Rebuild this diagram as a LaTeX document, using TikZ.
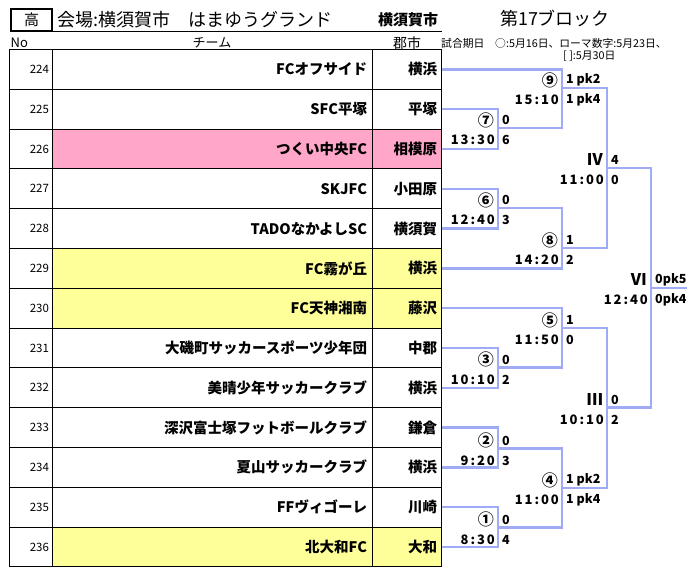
\documentclass[tikz,border=0pt]{standalone}
\usepackage{fontspec}
\setmainfont{Noto Sans CJK JP}
\newfontfamily\timefont[LetterSpace=15]{Noto Sans CJK JP}
\usetikzlibrary{calc}
\definecolor{bracketblue}{HTML}{9FABF5}
\definecolor{rowpink}{HTML}{FFA6C9}
\definecolor{rowyellow}{HTML}{FFFF99}
\tikzset{
  nocell/.style={draw, line width=1pt, outer sep=0pt, minimum height=39.8pt, inner xsep=3pt, inner ysep=0pt, text width=36.5pt, align=right, font=\fontsize{11.5}{13}\selectfont},
  teamcell/.style={draw, line width=1pt, outer sep=0pt, minimum height=39.8pt, inner xsep=5pt, inner ysep=0pt, text width=310pt, align=right, font=\bfseries\fontsize{14.5}{16}\selectfont},
  citycell/.style={draw, line width=1pt, outer sep=0pt, minimum height=39.8pt, inner xsep=4.5pt, inner ysep=0pt, text width=60.5pt, align=right, font=\bfseries\fontsize{14.5}{16}\selectfont},
  bracket/.style={draw=bracketblue, line width=2.5pt},
  numlbl/.style={inner sep=0pt, font=\bfseries\fontsize{16}{18}\selectfont},
  timelbl/.style={inner sep=0pt, font=\timefont\bfseries\fontsize{13}{15}\selectfont},
  scorelbl/.style={inner sep=0pt, font=\bfseries\fontsize{12.5}{15}\selectfont}
}
\begin{document}
\begin{tikzpicture}[x=1pt, y=-1pt]
\useasboundingbox (0,0) rectangle (693,573);
\node[draw, line width=2pt, minimum width=41pt, minimum height=22pt, inner sep=0pt, font=\fontsize{15}{17}\selectfont] (kou) at (31.5,20) {高};
\node[anchor=west, inner sep=0pt, font=\fontsize{18}{20}\selectfont] (venue) at (57,19.5) {会場:横須賀市　はまゆうグランド};
\node[inner sep=0pt, font=\bfseries\fontsize{15}{17}\selectfont] (city) at (408,20) {横須賀市};
\node[inner sep=0pt, font=\fontsize{18}{20}\selectfont] (block) at (555,19) {第17ブロック};
\draw[line width=1pt] (kou.east |- 0,31) -- (441.5,31);
\node[anchor=west, inner sep=0pt, font=\fontsize{13}{15}\selectfont] (hno) at (10.5,43) {No};
\node[inner sep=0pt, font=\fontsize{13}{15}\selectfont] (hteam) at (212,43) {チーム};
\node[inner sep=0pt, font=\fontsize{14}{16}\selectfont] (hcity) at (407,43) {郡市};
\node[anchor=west, inner sep=0pt, font=\fontsize{10.8}{12}\selectfont] (note1) at (441,43) {試合期日　○:5月16日、ローマ数字:5月23日、};
\node[anchor=west, inner sep=0pt, font=\fontsize{10.8}{12}\selectfont] (note2) at (563,56) {[ ]:5月30日};
\foreach \n/\team/\city/\bg [count=\i from 0] in {
  224/FCオフサイド/横浜/white,
  225/SFC平塚/平塚/white,
  226/つくい中央FC/相模原/rowpink,
  227/SKJFC/小田原/white,
  228/TADOなかよしSC/横須賀/white,
  229/FC霧が丘/横浜/rowyellow,
  230/FC天神湘南/藤沢/rowyellow,
  231/大磯町サッカースポーツ少年団/中郡/white,
  232/美晴少年サッカークラブ/横浜/white,
  233/深沢富士塚フットボールクラブ/鎌倉/white,
  234/夏山サッカークラブ/横浜/white,
  235/FFヴィゴーレ/川崎/white,
  236/北大和FC/大和/rowyellow}
{
  \pgfmathsetmacro\y{49.5+39.8*(\i+0.5)}
  \node[nocell, anchor=west] (n\n) at (9.5,\y) {\n};
  \node[teamcell, fill=\bg, anchor=west] (t\n) at (n\n.east) {\team};
  \node[citycell, fill=\bg, anchor=west] (c\n) at (t\n.east) {\city};
}
\coordinate (m7) at (498,128);
\coordinate (m6) at (498,208);
\coordinate (m3) at (498,367.5);
\coordinate (m2) at (498,448.5);
\coordinate (m1) at (498,527.5);
\coordinate (m9) at (562,88);
\coordinate (m8) at (562,248);
\coordinate (m5) at (562,328);
\coordinate (m4) at (562,488);
\coordinate (r4) at (607,168);
\coordinate (r3) at (607,407.5);
\coordinate (r6) at (651,288);
\coordinate (win) at (687,288);
\draw[bracket] (c225.east) -| (m7) (c226.east) -| (m7)
  (c227.east) -| (m6) (c228.east) -| (m6)
  (c231.east) -| (m3) (c232.east) -| (m3)
  (c233.east) -| (m2) (c234.east) -| (m2)
  (c235.east) -| (m1) (c236.east) -| (m1)
  (c224.east) -| (m9) (m7) -| (m9)
  (m6) -| (m8) (c229.east) -| (m8)
  (c230.east) -| (m5) (m3) -| (m5)
  (m2) -| (m4) (m1) -| (m4)
  (m9) -| (r4) (m8) -| (r4)
  (m5) -| (r3) (m4) -| (r3)
  (r4) -| (r6) (r3) -| (r6)
  (r6) -- (win);
\foreach \m/\num/\time/\up/\down in {
  m7/⑦/13:30/0/6, m6/⑥/12:40/0/3, m3/③/10:10/0/2, m2/②/9:20/0/3, m1/①/8:30/0/4,
  m9/⑨/15:10/1 pk2/1 pk4, m8/⑧/14:20/1/2, m5/⑤/11:50/1/0, m4/④/11:00/1 pk2/1 pk4,
  r4/Ⅳ/11:00/4/0, r3/Ⅲ/10:10/0/2, r6/Ⅵ/12:40/0pk5/0pk4}
{
  \node[numlbl, anchor=east] (\m-num) at ($(\m)+(-4,-8)$) {\num};
  \node[timelbl, anchor=east] (\m-time) at ($(\m)+(-3,12)$) {\time};
  \node[scorelbl, anchor=west] (\m-up) at ($(\m)+(4,-8)$) {\up};
  \node[scorelbl, anchor=west] (\m-down) at ($(\m)+(4,12)$) {\down};
}
\end{tikzpicture}
\end{document}
